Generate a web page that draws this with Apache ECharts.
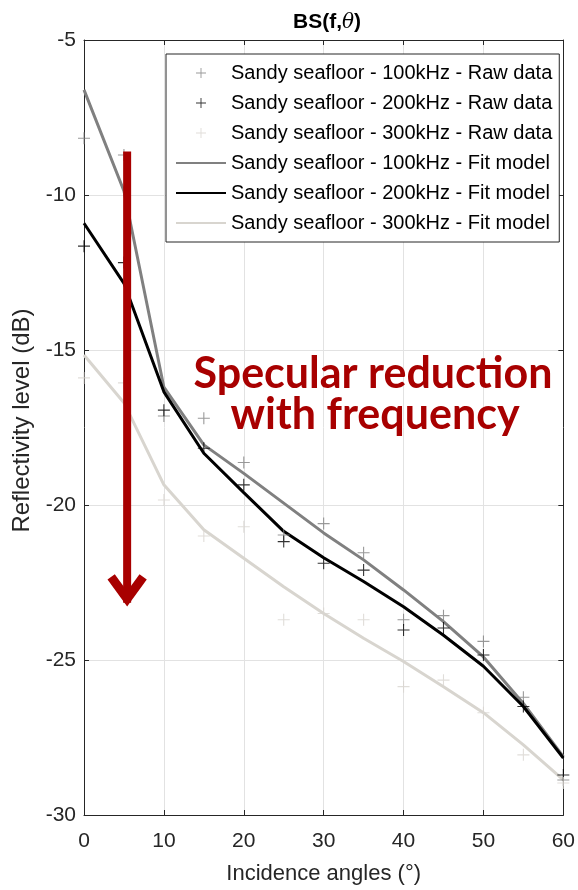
<!DOCTYPE html>
<html>
<head>
<meta charset="utf-8">
<script src="https://cdn.jsdelivr.net/npm/echarts@6/dist/echarts.min.js"></script>
<style>
  html, body { margin: 0; padding: 0; background: #fff; }
  #main { width: 578px; height: 890px; }
</style>
</head>
<body>
<div id="main"></div>
<script>
// incidence angles (deg)
var angles = [0, 5, 10, 15, 20, 25, 30, 35, 40, 45, 50, 55, 60];

// raw data (dB)
var raw100 = [-8.17, -8.71, -17.13, -17.2, -18.63, -20.97, -20.6, -21.54, -23.7, -23.57, -24.4, -26.2, -28.87];
var raw200 = [-11.65, -12.18, -16.94, -18.17, -19.35, -21.18, -21.88, -22.1, -24.03, -23.97, -24.84, -26.5, -28.71];
var raw300 = [-15.9, -16.06, -19.84, -21.0, -20.7, -23.7, -23.5, -23.7, -25.86, -25.65, -26.7, -28.06, -28.97];

// fit model (dB)
var fit100 = [-6.61, -9.87, -16.2, -18.06, -18.98, -19.94, -20.9, -21.77, -22.74, -23.76, -24.9, -26.4, -28.12];
var fit200 = [-10.91, -12.85, -16.35, -18.33, -19.6, -20.85, -21.7, -22.47, -23.28, -24.2, -25.2, -26.5, -28.16];
var fit300 = [-15.16, -16.7, -19.35, -20.8, -21.72, -22.64, -23.5, -24.3, -25.05, -25.86, -26.7, -27.74, -28.87];

var xTicks = [0, 10, 20, 30, 40, 50, 60];
var yTicks = [-30, -25, -20, -15, -10, -5];

var legendNames = [
  'Sandy seafloor - 100kHz - Raw data',
  'Sandy seafloor - 200kHz - Raw data',
  'Sandy seafloor - 300kHz - Raw data',
  'Sandy seafloor - 100kHz - Fit model',
  'Sandy seafloor - 200kHz - Fit model',
  'Sandy seafloor - 300kHz - Fit model'
];

var c100 = '#808080', c200 = '#000000', c300 = '#d8d5cf';
var plus = 'path://M5,0h1v11h-1zM0,5h11v1h-11z';
var axisCol = '#262626';
var font = 'Liberation Sans';

function pairs(xs, ys) {
  return xs.map(function (x, i) { return [x, ys[i]]; });
}

function rawSeries(name, ys, color) {
  return {
    name: name, type: 'scatter', symbol: plus, symbolSize: 12,
    itemStyle: { color: color }, data: pairs(angles, ys), z: 3
  };
}

function fitSeries(name, ys, color) {
  return {
    name: name, type: 'line', symbol: 'none',
    lineStyle: { color: color, width: 3 }, itemStyle: { color: color },
    data: pairs(angles, ys), z: 2
  };
}

var xBase = {
  type: 'value', min: 0, max: 60, interval: 10,
  axisLine: { show: true, onZero: false, lineStyle: { color: axisCol, width: 1 } },
  axisTick: { show: true, inside: true, length: 5, lineStyle: { color: axisCol } }
};
var yBase = {
  type: 'value', min: -30, max: -5, interval: 5,
  axisLine: { show: true, onZero: false, lineStyle: { color: axisCol, width: 1 } },
  axisTick: { show: true, inside: true, length: 5, lineStyle: { color: axisCol } }
};

// legend: plus icons for raw data, plain lines for fits (no marker dot)
var legendData = legendNames.map(function (n, i) {
  return i < 3 ? { name: n } : { name: n, itemStyle: { opacity: 0 } };
});

var option = {
  animation: false,
  backgroundColor: '#fff',
  title: {
    text: 'BS(f,{i|θ})',
    left: 322, top: 7, textAlign: 'center',
    textStyle: {
      fontFamily: font, fontWeight: 'bold', fontSize: 21, color: '#000',
      rich: { i: { fontFamily: 'DejaVu Serif', fontStyle: 'italic', fontWeight: 'normal', fontSize: 20, color: '#000' } }
    }
  },
  grid: { left: 84, top: 40, right: 9, bottom: 75, containLabel: false },
  legend: {
    orient: 'vertical', left: 166, top: 54,
    padding: [9, 7, 9, 9],
    itemWidth: 50, itemHeight: 10, itemGap: 10,
    backgroundColor: '#fff', borderColor: axisCol, borderWidth: 1,
    textStyle: { fontFamily: font, fontSize: 20, color: '#000' },
    data: legendData
  },
  xAxis: [
    Object.assign({}, xBase, {
      position: 'bottom',
      name: 'Incidence angles (°)', nameLocation: 'middle', nameGap: 48,
      nameTextStyle: { fontFamily: font, fontSize: 22, color: axisCol },
      axisLabel: {
        fontFamily: font, fontSize: 21, color: axisCol, margin: 16,
        formatter: function (v) { return xTicks.indexOf(v) >= 0 ? String(v) : ''; }
      },
      splitLine: { show: true, lineStyle: { color: '#e2e2e2', width: 1 } }
    }),
    Object.assign({}, xBase, {
      position: 'top', axisLabel: { show: false }, splitLine: { show: false }
    })
  ],
  yAxis: [
    Object.assign({}, yBase, {
      position: 'left',
      name: 'Reflectivity level (dB)', nameLocation: 'middle', nameGap: 47,
      nameTextStyle: { fontFamily: font, fontSize: 24, color: axisCol, padding: [0, 0, 0, 14] },
      axisLabel: {
        fontFamily: font, fontSize: 21, color: axisCol, margin: 8,
        formatter: function (v) { return yTicks.indexOf(v) >= 0 ? String(v) : ''; }
      },
      splitLine: { show: true, lineStyle: { color: '#e2e2e2', width: 1 } }
    }),
    Object.assign({}, yBase, {
      position: 'right', axisLabel: { show: false }, splitLine: { show: false }
    })
  ],
  series: [
    rawSeries(legendNames[0], raw100, c100),
    rawSeries(legendNames[1], raw200, c200),
    rawSeries(legendNames[2], raw300, c300),
    fitSeries(legendNames[3], fit100, c100),
    fitSeries(legendNames[4], fit200, c200),
    fitSeries(legendNames[5], fit300, c300)
  ]
};

var chart = echarts.init(document.getElementById('main'), null, { renderer: 'canvas' });
chart.setOption(option);

// annotation: red arrow + text, anchored in data coords
var red = '#a80000';
var arrowTop = chart.convertToPixel({ gridIndex: 0 }, [5.4, -8.6]);
var arrowTip = chart.convertToPixel({ gridIndex: 0 }, [5.4, -23.35]);
chart.setOption({
  graphic: [
    {
      type: 'line', z: 100,
      shape: { x1: arrowTop[0], y1: arrowTop[1], x2: arrowTip[0], y2: arrowTip[1] - 6 },
      style: { stroke: red, lineWidth: 8 }
    },
    {
      type: 'polyline', z: 100,
      shape: { points: [[arrowTip[0] - 16, arrowTip[1] - 32], [arrowTip[0], arrowTip[1] - 10], [arrowTip[0] + 16, arrowTip[1] - 32]] },
      style: { stroke: red, lineWidth: 9, fill: null, lineJoin: 'miter', lineCap: 'butt' }
    },
    {
      type: 'text', z: 100, x: 373, y: 374,
      style: {
        text: 'Specular reduction', fill: red, align: 'center', verticalAlign: 'middle',
        font: 'bold 43px Lato'
      }
    },
    {
      type: 'text', z: 100, x: 375, y: 415,
      style: {
        text: 'with frequency', fill: red, align: 'center', verticalAlign: 'middle',
        font: 'bold 43px Lato'
      }
    }
  ]
});
</script>
</body>
</html>
